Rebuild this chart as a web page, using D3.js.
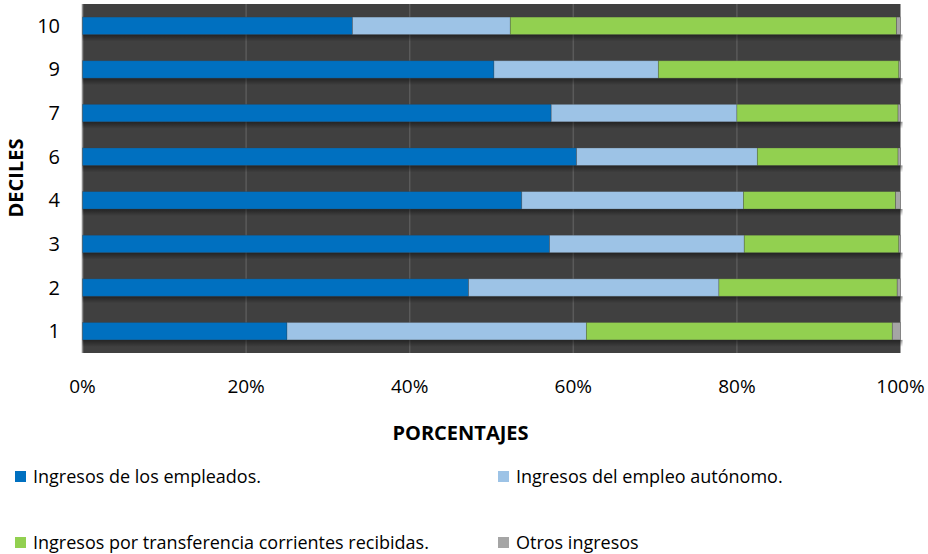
<!DOCTYPE html>
<html>
<head>
<meta charset="utf-8">
<script src="https://cdn.jsdelivr.net/npm/d3@7"></script>
<style>
  body { margin: 0; background: #fff; }
  svg { display: block; font-family: "Open Sans", sans-serif; }
</style>
</head>
<body>
<div id="chart"></div>
<script>
const deciles = ['10', '9', '7', '6', '4', '3', '2', '1'];
const empleados = [33.0, 50.3, 57.3, 60.4, 53.7, 57.1, 47.2, 25.0];
const autonomo = [19.3, 20.1, 22.7, 22.1, 27.1, 23.8, 30.6, 36.6];
const transferencias = [47.2, 29.4, 19.7, 17.2, 18.6, 18.9, 21.8, 37.4];
const otros = [0.5, 0.2, 0.3, 0.3, 0.6, 0.2, 0.4, 1.0];
const seriesNames = [
  'Ingresos de los empleados.',
  'Ingresos del empleo autónomo.',
  'Ingresos por transferencia corrientes recibidas.',
  'Otros ingresos'
];
const xTicks = [0, 0.2, 0.4, 0.6, 0.8, 1];

const width = 928;
const height = 554;
const colors = ['#0070c0', '#9dc3e6', '#92d050', '#a5a5a5'];
const keys = ['emp', 'aut', 'tra', 'otr'];

const rows = deciles.map((d, i) => {
  const total = empleados[i] + autonomo[i] + transferencias[i] + otros[i];
  return {
    decil: d,
    emp: empleados[i] / total,
    aut: autonomo[i] / total,
    tra: transferencias[i] / total,
    otr: otros[i] / total
  };
});

const stacked = d3.stack().keys(keys)(rows);

const svg = d3.select('#chart')
  .append('svg')
  .attr('width', width)
  .attr('height', height);

const x = d3.scaleLinear()
  .domain([0, 1])
  .range([82.5, 900.5]);

const y = d3.scaleBand()
  .domain(deciles)
  .range([4, 353])
  .paddingInner(0.6)
  .paddingOuter(0.3);

const defs = svg.append('defs');
const grad = defs.append('linearGradient')
  .attr('id', 'shadow')
  .attr('x1', 0).attr('y1', 0).attr('x2', 0).attr('y2', 1);
grad.append('stop').attr('offset', '0%').attr('stop-color', '#000').attr('stop-opacity', 0.45);
grad.append('stop').attr('offset', '100%').attr('stop-color', '#000').attr('stop-opacity', 0);

// plot background
svg.append('rect')
  .attr('x', x(0))
  .attr('y', 4)
  .attr('width', x(1) - x(0))
  .attr('height', 349)
  .attr('fill', '#404040');

// gridlines
svg.append('g')
  .selectAll('line')
  .data(xTicks.slice(1, -1))
  .enter()
  .append('line')
  .attr('x1', (d) => x(d))
  .attr('x2', (d) => x(d))
  .attr('y1', 4)
  .attr('y2', 353)
  .attr('stroke', '#5a5a5a')
  .attr('stroke-width', 1.5);

// left axis line
svg.append('line')
  .attr('x1', x(0)).attr('x2', x(0))
  .attr('y1', 4).attr('y2', 353)
  .attr('stroke', '#8c8c8c')
  .attr('stroke-width', 1.5);

// bar shadows
svg.append('g')
  .selectAll('rect')
  .data(rows)
  .enter()
  .append('rect')
  .attr('x', x(0))
  .attr('y', (d) => y(d.decil) + y.bandwidth())
  .attr('width', x(1) - x(0) + 2)
  .attr('height', 7)
  .attr('fill', 'url(#shadow)');

// bars
svg.append('g')
  .selectAll('g')
  .data(stacked)
  .enter()
  .append('g')
  .attr('fill', (d, i) => colors[i])
  .selectAll('rect')
  .data((d) => d)
  .enter()
  .append('rect')
  .attr('x', (d) => x(d[0]))
  .attr('y', (d) => y(d.data.decil))
  .attr('width', (d) => x(d[1]) - x(d[0]))
  .attr('height', y.bandwidth())
  .attr('stroke', 'rgba(60,60,60,0.35)')
  .attr('stroke-width', 0.8);

// y axis labels
svg.append('g')
  .selectAll('text')
  .data(deciles)
  .enter()
  .append('text')
  .attr('x', 60)
  .attr('y', (d) => y(d) + y.bandwidth() / 2 + 7)
  .attr('text-anchor', 'end')
  .attr('font-size', 20)
  .attr('fill', '#000')
  .text((d) => d);

// x axis labels
const fmt = d3.format('.0%');
svg.append('g')
  .selectAll('text')
  .data(xTicks)
  .enter()
  .append('text')
  .attr('x', (d) => x(d))
  .attr('y', 393)
  .attr('text-anchor', 'middle')
  .attr('font-size', 19)
  .attr('fill', '#000')
  .text((d) => fmt(d));

// axis titles
svg.append('text')
  .attr('x', 460.5)
  .attr('y', 440)
  .attr('text-anchor', 'middle')
  .attr('font-size', 20)
  .attr('font-weight', 'bold')
  .text('PORCENTAJES');

svg.append('text')
  .attr('transform', 'translate(23, 178) rotate(-90)')
  .attr('text-anchor', 'middle')
  .attr('font-size', 20)
  .attr('font-weight', 'bold')
  .text('DECILES');

// legend
const legendPos = [[15, 471], [498, 471], [15, 537], [498, 537]];
const legendElem = svg.append('g')
  .selectAll('g')
  .data(seriesNames)
  .enter()
  .append('g')
  .attr('transform', (d, i) => `translate(${legendPos[i][0]}, ${legendPos[i][1]})`);

legendElem.append('rect')
  .attr('width', 11)
  .attr('height', 11)
  .attr('fill', (d, i) => colors[i]);

legendElem.append('text')
  .attr('x', 18)
  .attr('y', 12)
  .attr('font-size', 18)
  .attr('fill', '#000')
  .text((d) => d);
</script>
</body>
</html>
